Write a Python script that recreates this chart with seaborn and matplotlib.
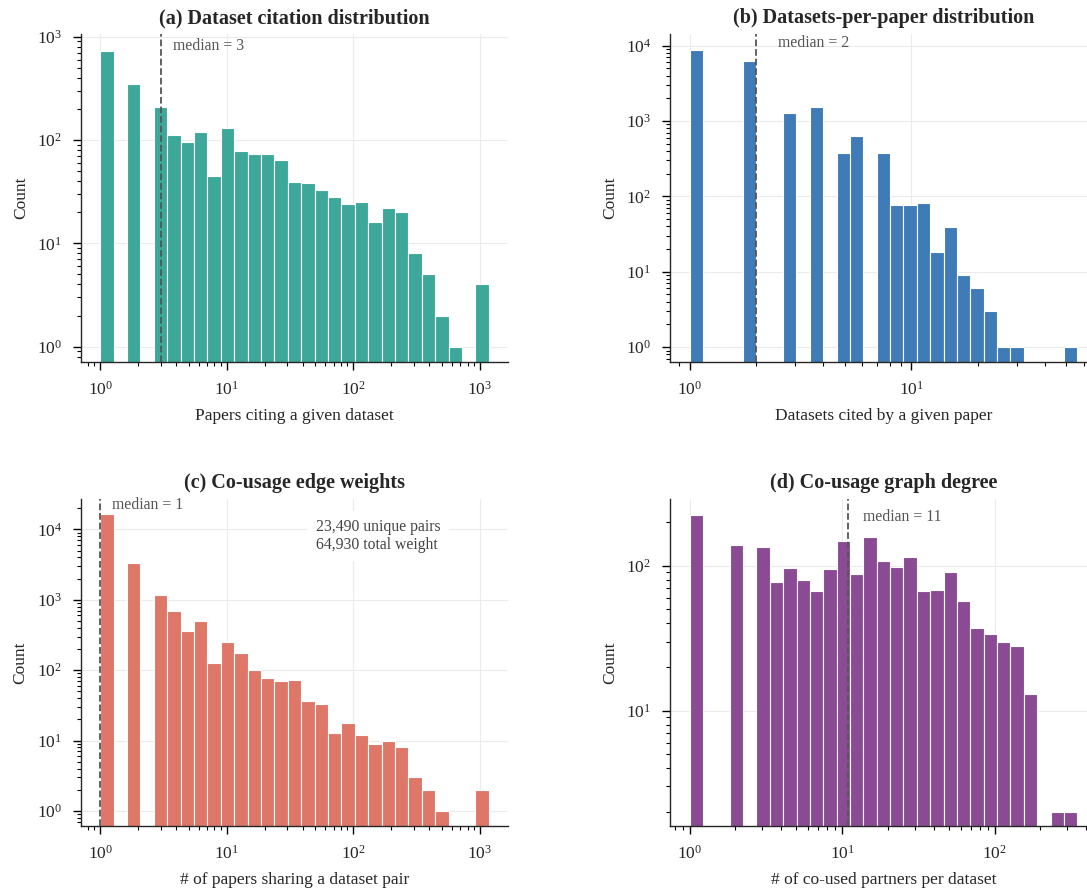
import numpy as np
import pandas as pd
import seaborn as sns
import matplotlib.pyplot as plt
from matplotlib.ticker import LogLocator, NullFormatter

# Counts per log-spaced bin (29 bins from 1 up to the largest value of each series)
cite_max = 1178
cite_counts = [732, 0, 348, 0, 209, 111, 96, 120, 45, 131, 78, 73, 73, 64, 39,
               38, 33, 28, 24, 25, 16, 22, 20, 8, 5, 2, 1, 0, 4]
cite_median = 3

paper_max = 56
paper_counts = [8590, 0, 0, 0, 6320, 0, 0, 1291, 0, 1535, 0, 372, 632, 0, 372,
                77, 77, 82, 18, 39, 9, 6, 3, 1, 1, 0, 0, 0, 1]
paper_median = 2

pair_max = 1178
pair_counts = [16300, 0, 3290, 0, 1155, 692, 364, 505, 126, 251, 173, 100, 77, 69, 72,
               36, 33, 13, 18, 12, 9, 10, 8, 3, 2, 1, 0, 0, 2]
pair_median = 1
n_pairs = 23490
total_weight = 64930

degree_max = 349
degree_counts = [224, 0, 0, 140, 0, 135, 77, 97, 80, 67, 95, 147, 88, 157, 108,
                 98, 114, 67, 68, 91, 57, 37, 34, 30, 28, 13, 0, 2, 2]
degree_median = 11

sns.set_style('ticks')
plt.rcParams['font.family'] = ['Liberation Serif', 'DejaVu Serif']
plt.rcParams['mathtext.fontset'] = 'stix'
plt.rcParams['axes.linewidth'] = 1.0

fig = plt.figure(figsize=(10.87, 8.9), dpi=100)

# title, x label, max, counts, median, colour, axes rect, xlim, ylim, median text y
panels = [
    ('(a) Dataset citation distribution', 'Papers citing a given dataset',
     cite_max, cite_counts, cite_median, '#3da89a',
     [0.0743, 0.5936, 0.3933, 0.3679], (0.703, 1679), (0.716, 1054), 0.964),
    ('(b) Datasets-per-paper distribution', 'Datasets cited by a given paper',
     paper_max, paper_counts, paper_median, '#3f7bb7',
     [0.6164, 0.5936, 0.3926, 0.3679], (0.817, 68.5), (0.64, 14100), 0.974),
    ('(c) Co-usage edge weights', '# of papers sharing a dataset pair',
     pair_max, pair_counts, pair_median, '#de7767',
     [0.0743, 0.0719, 0.3933, 0.367], (0.703, 1679), (0.61, 26700), 0.983),
    ('(d) Co-usage graph degree', '# of co-used partners per dataset',
     degree_max, degree_counts, degree_median, '#8a4b94',
     [0.6164, 0.0719, 0.3926, 0.367], (0.745, 468), (1.6, 287), 0.945),
]

for title, xlabel, vmax, counts, median, color, rect, xlim, ylim, ty in panels:
    ax = fig.add_axes(rect)
    edges = np.logspace(0, np.log10(vmax), 30).tolist()
    centers = [np.sqrt(lo * hi) for lo, hi in zip(edges[:-1], edges[1:])]
    df = pd.DataFrame({'value': centers, 'count': counts})
    df = df[df['count'] > 0]

    sns.histplot(data=df, x='value', weights='count', bins=edges, color=color,
                 alpha=1, edgecolor='white', linewidth=0.8, ax=ax)
    ax.set_xscale('log')
    ax.set_yscale('log')
    ax.set_xlim(xlim)
    ax.set_ylim(ylim)

    # log minor ticks on both axes
    for axis in (ax.xaxis, ax.yaxis):
        axis.set_major_locator(LogLocator(base=10, numticks=20))
        axis.set_minor_locator(LogLocator(base=10, subs=np.arange(2, 10), numticks=100))
        axis.set_minor_formatter(NullFormatter())
    ax.tick_params(which='major', length=6, width=1.0, color='black', labelsize=12.5, pad=7.5)
    ax.tick_params(which='minor', length=2.9, width=0.8, color='black')

    ax.axvline(median, color='#555555', ls='--', lw=1.3, zorder=3)
    ax.text(median * 1.25, ty, f'median = {median}', transform=ax.get_xaxis_transform(),
            ha='left', va='center', fontsize=11.3, color='#555555')

    ax.set_title(title, fontweight='bold', fontsize=14.5, pad=8)
    ax.set_xlabel(xlabel, fontsize=12.5, labelpad=7)
    ax.set_ylabel('Count', fontsize=12.5, labelpad=5.7)
    ax.grid(True, which='major', color='#ebebeb', lw=0.8)
    ax.set_axisbelow(True)
    sns.despine(ax=ax)

    if title.startswith('(c)'):
        ax.text(0.55, 0.94, f'{n_pairs:,} unique pairs\n{total_weight:,} total weight',
                transform=ax.transAxes, ha='left', va='top', fontsize=11.3,
                color='#444444', linespacing=1.15,
                bbox=dict(facecolor='white', edgecolor='none', pad=6))

fig.savefig('out.png', dpi=100)
